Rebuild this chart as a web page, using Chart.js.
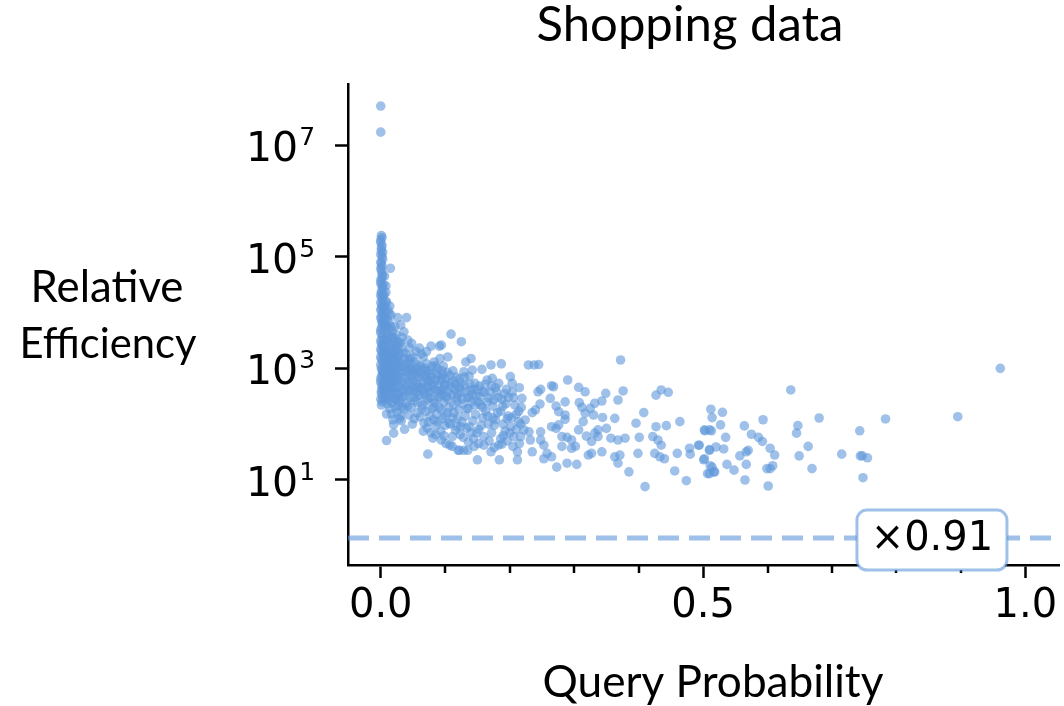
<!DOCTYPE html>
<html><head><meta charset="utf-8">
<script src="https://cdn.jsdelivr.net/npm/chart.js@4.4.1/dist/chart.umd.min.js"></script>
<style>html,body{margin:0;padding:0;background:#fff;overflow:hidden}#wrap{width:1064px;height:706px;position:relative}</style>
</head><body><div id="wrap"><canvas id="c" width="1064" height="706"></canvas></div>
<script>
const titleText = 'Shopping data';
const xAxisLabel = 'Query Probability';
const yAxisLabelLines = ['Relative', 'Efficiency'];
const xTickValues = [0, 0.5, 1.0];
const xMinorTickValues = [0.1, 0.2, 0.3, 0.4, 0.6, 0.7, 0.8, 0.9];
const yTickValues = [1e1, 1e3, 1e5, 1e7];
const baselineRatio = 0.91;
const baselineLabel = '×0.91';
const baselineLabelX = 0.855;

// [query probability, relative efficiency]
const shoppingPoints = [
[0.000,5.0e7],[0.000,1.7e7],
[0.001,2.4e5],[0.000,2.0e5],[0.002,1.6e5],[0.001,1.3e5],[0.000,1.1e5],[0.003,9.0e4],[0.001,7.5e4],[0.000,6.2e4],[0.002,5.0e4],[0.001,4.1e4],[0.000,3.3e4],[0.003,2.7e4],[0.001,2.2e4],[0.002,1.8e4],[0.000,1.5e4],[0.001,1.2e4],[0.003,1.0e4],[0.000,8.2e3],[0.002,6.6e3],[0.001,5.3e3],[0.000,4.3e3],[0.002,3.5e3],[0.001,2.8e3],[0.000,2.2e3],[0.003,1.8e3],[0.001,1.45e3],[0.000,1.15e3],[0.002,920],[0.001,720],[0.000,560],[0.002,440],[0.001,350],[0.000,280],
[0.002,2.2e5],[0.000,1.8e5],[0.001,1.45e5],[0.003,1.2e5],[0.002,1.0e5],[0.000,8.0e4],[0.002,6.8e4],[0.001,5.6e4],[0.003,4.5e4],[0.000,3.7e4],[0.002,3.0e4],[0.001,2.4e4],[0.000,2.0e4],[0.003,1.6e4],[0.002,1.35e4],[0.000,1.1e4],[0.002,9.0e3],[0.001,7.4e3],[0.003,6.0e3],[0.000,4.8e3],[0.003,3.9e3],[0.000,3.1e3],[0.002,2.5e3],[0.001,2.0e3],[0.000,1.6e3],[0.003,1.3e3],[0.001,1.0e3],[0.003,800],[0.000,640],[0.002,500],[0.001,390],[0.003,310],[0.002,250],[0.001,220],
[0.015,6.2e4],
[0.006,4.5e4],[0.008,3.0e4],[0.005,2.1e4],[0.009,1.5e4],[0.007,1.05e4],[0.010,7.5e3],[0.006,5.5e3],[0.011,4.0e3],[0.008,2.9e3],[0.005,2.2e3],[0.010,1.7e3],[0.007,1.3e3],[0.012,1.0e3],[0.006,780],[0.009,600],[0.011,460],[0.005,360],[0.008,290],[0.010,230],[0.009,152],[0.007,8.5e3],[0.012,5.0e3],[0.006,3.2e3],[0.009,2.0e3],[0.005,1.1e3],[0.011,650],[0.007,420],[0.009,51],
[0.014,1.3e4],[0.016,9.0e3],[0.013,6.5e3],[0.018,4.7e3],[0.015,3.5e3],[0.019,2.6e3],[0.013,1.9e3],[0.017,1.5e3],[0.014,1.15e3],[0.019,880],[0.016,680],[0.013,520],[0.018,400],[0.015,310],[0.017,240],[0.014,190],[0.017,152],[0.019,120],
[0.026,8.1e3],[0.031,6.0e3],[0.022,5.6e3],[0.024,4.0e3],[0.028,3.0e3],[0.021,2.3e3],[0.027,1.75e3],[0.023,1.35e3],[0.029,1.05e3],[0.025,800],[0.021,620],[0.028,480],[0.024,370],[0.022,280],[0.027,215],[0.025,165],[0.029,125],[0.020,69],[0.020,98],
[0.040,8.1e3],[0.036,4.5e3],[0.042,3.2e3],[0.033,2.4e3],[0.039,1.8e3],[0.044,1.4e3],[0.035,1.1e3],[0.041,860],[0.032,660],[0.038,510],[0.043,400],[0.034,310],[0.040,240],[0.036,185],[0.044,145],[0.032,115],[0.037,81],
[0.048,2.8e3],[0.055,2.0e3],[0.046,1.5e3],[0.058,1.15e3],[0.051,900],[0.047,700],[0.056,540],[0.050,420],[0.059,330],[0.053,260],[0.047,200],[0.057,160],[0.052,125],[0.049,100],
[0.060,2.3e3],[0.066,1.6e3],[0.071,1.2e3],[0.063,950],[0.069,750],[0.074,580],[0.062,450],[0.068,350],[0.073,280],[0.065,220],[0.070,170],[0.061,135],[0.067,105],[0.072,85],[0.073,29],
[0.078,2.5e3],[0.083,1.3e3],[0.088,1.0e3],[0.076,800],[0.085,620],[0.080,480],[0.089,380],[0.077,300],[0.084,240],[0.079,190],[0.087,150],[0.082,120],[0.086,95],[0.078,70],[0.081,56],
[0.091,2.5e3],[0.094,2.6e3],[0.092,1.5e3],[0.097,1.1e3],[0.103,850],[0.095,650],[0.100,500],[0.093,400],[0.102,310],[0.098,250],[0.091,200],[0.104,160],[0.096,125],[0.100,95],[0.093,75],[0.094,52],[0.101,45],
[0.109,4.1e3],[0.104,1.6e3],[0.112,900],[0.117,700],[0.108,540],[0.115,420],[0.110,330],[0.118,260],[0.106,200],[0.113,160],[0.119,125],[0.108,100],[0.116,78],[0.111,60],[0.107,42],[0.111,40],
[0.125,3.0e3],[0.132,1.3e3],[0.129,870],[0.122,650],[0.130,500],[0.124,380],[0.134,300],[0.127,230],[0.121,180],[0.131,140],[0.126,110],[0.133,85],[0.123,65],[0.120,34],[0.122,34],[0.135,34],[0.129,34],
[0.140,1.5e3],[0.142,930],[0.137,720],[0.146,540],[0.139,410],[0.148,320],[0.141,250],[0.136,190],[0.147,150],[0.143,115],[0.138,90],[0.149,70],[0.145,40],[0.150,23],
[0.157,960],[0.165,620],[0.173,660],[0.153,480],[0.161,370],[0.168,290],[0.155,220],[0.163,170],[0.158,130],[0.167,100],[0.152,80],[0.160,60],[0.171,32],
[0.171,1.15e3],[0.187,1.2e3],[0.183,540],[0.178,450],[0.192,350],[0.175,270],[0.189,210],[0.181,160],[0.196,125],[0.176,95],[0.193,75],[0.186,55],[0.183,42],[0.184,23],[0.198,300],[0.174,130],
[0.201,710],[0.204,540],[0.204,380],[0.219,290],[0.208,220],[0.214,170],[0.203,130],[0.217,100],[0.210,80],[0.206,60],[0.212,32],[0.212,23],[0.215,450],
[0.229,1150],[0.238,1150],[0.245,1170],[0.372,1410],[0.290,618],[0.265,489],[0.268,468],[0.248,421],[0.244,380],[0.307,457],[0.317,380],[0.349,357],[0.376,393],[0.368,271],[0.427,331],[0.435,410],[0.446,372],[0.263,290],[0.286,251],[0.308,243],[0.332,237],[0.343,260],[0.247,229],[0.240,180],[0.235,161],[0.272,211],[0.276,167],[0.286,146],[0.286,122],[0.312,200],[0.325,192],[0.317,157],[0.330,146],[0.344,132],[0.363,127],[0.408,161],[0.396,104],[0.427,90],[0.443,94],[0.464,111],
[0.224,119],[0.222,79],[0.230,73],[0.217,60],[0.248,73],[0.265,90],[0.272,84],[0.276,97],[0.232,52],[0.248,52],[0.253,42],[0.235,32],[0.258,30],[0.253,24],[0.265,26],[0.281,60],[0.289,58],[0.296,52],[0.281,40],[0.296,37],[0.302,40],[0.273,17],[0.289,20],[0.304,19],[0.307,79],[0.314,111],[0.319,61],[0.332,69],[0.337,79],[0.350,84],[0.357,56],[0.368,52],[0.379,56],[0.327,49],[0.337,60],[0.322,28],[0.327,30],[0.343,32],[0.363,26],[0.371,28],[0.368,20],[0.385,14],[0.399,30],[0.401,58],[0.422,60],[0.430,52],[0.435,42],[0.425,30],[0.433,26],[0.440,24],[0.410,7.6],[0.456,14.5],[0.474,9.7],[0.460,30],[0.479,37],[0.480,29],[0.493,42],[0.502,24],[0.510,34],[0.514,17],[0.510,13],[0.517,14],[0.502,79],[0.510,79],
[0.961,1000],[0.636,410],[0.895,136],[0.783,124],[0.680,129],[0.647,94],[0.645,69],[0.743,76],[0.715,29],[0.744,27],[0.747,27],[0.755,25],[0.748,11],[0.669,16],[0.649,27],[0.663,40],[0.593,120],[0.564,93],[0.575,66],[0.586,58],[0.592,49],[0.604,37],[0.611,28],[0.608,18],[0.604,16],[0.599,16],[0.601,7.8],[0.565,10],[0.567,19],[0.557,27],[0.567,32],[0.570,34],[0.548,15],[0.537,19],[0.512,185],[0.514,131],[0.530,163],[0.527,97],[0.503,76],[0.513,76],[0.535,58],[0.494,42],[0.510,35],[0.520,39],[0.532,36],[0.501,23],[0.511,18],[0.507,13],[0.518,14],
[0.004,2.6e3],[0.005,1.6e3],[0.004,900],[0.006,1.9e3],[0.008,1.1e3],[0.004,560],[0.007,700],[0.010,1.3e3],[0.012,2.4e3],[0.013,800],[0.016,1.1e3],[0.018,600],[0.011,340],[0.004,430],[0.006,270],[0.013,270],[0.016,450],[0.019,1.7e3],[0.020,3.5e3],[0.017,2.1e3],[0.010,5.8e3],[0.013,9.5e3],[0.004,1.3e4],[0.005,7.0e3],[0.008,2.3e4],[0.004,3.2e4],
[0.022,1.1e3],[0.024,560],[0.026,1.5e3],[0.030,850],[0.033,420],[0.035,1.9e3],[0.038,700],[0.041,1.2e3],[0.044,560],[0.046,300],[0.048,950],[0.050,1.6e3],[0.052,600],[0.054,380],[0.056,820],[0.058,470],[0.030,270],[0.034,200],[0.038,330],[0.042,210],[0.045,1.0e3],[0.053,1.3e3],[0.057,240],[0.023,200],[0.027,330],[0.031,140],[0.026,2.6e3],[0.033,3.6e3],[0.045,2.3e3],
[0.062,1.1e3],[0.065,700],[0.068,480],[0.071,900],[0.074,370],[0.077,600],[0.080,1.1e3],[0.083,270],[0.086,800],[0.089,500],[0.092,330],[0.095,900],[0.098,420],[0.101,650],[0.104,280],[0.107,750],[0.110,450],[0.113,220],[0.116,520],[0.119,350],[0.064,190],[0.070,260],[0.076,140],[0.082,200],[0.088,110],[0.094,180],[0.100,140],[0.106,105],[0.112,130],[0.118,90],[0.066,75],[0.074,110],[0.085,65],[0.098,62],[0.063,1.8e3],[0.071,2.0e3],
[0.122,460],[0.126,280],[0.130,700],[0.134,190],[0.138,520],[0.142,340],[0.146,220],[0.150,420],[0.154,310],[0.158,200],[0.162,520],[0.166,140],[0.170,380],[0.174,210],[0.178,120],[0.182,300],[0.186,170],[0.190,100],[0.194,230],[0.198,140],[0.202,90],[0.206,300],[0.210,150],[0.214,110],[0.218,200],[0.128,58],[0.136,48],[0.144,55],[0.152,45],[0.160,42],[0.168,50],[0.176,38],[0.188,44],[0.196,50],[0.205,40],[0.215,45],[0.124,90],[0.140,70],[0.156,95],[0.172,70],[0.190,62],[0.200,70],
[0.005,9.0e3],[0.007,6.2e3],[0.009,4.4e3],[0.011,3.3e3],[0.006,2.6e3],[0.014,2.8e3],[0.016,2.0e3],[0.012,1.6e3],[0.009,1.2e3],[0.015,1.3e3],[0.018,1.0e3],[0.021,1.5e3],[0.024,1.2e3],[0.023,2.0e3],[0.026,1.0e3],[0.028,1.3e3],[0.016,5.5e3],[0.019,3.6e3],[0.022,3.0e3],[0.025,2.2e3],[0.028,1.9e3],[0.030,2.8e3],[0.008,1.6e4],[0.011,1.1e4],[0.006,1.3e4],[0.004,2.0e4],
[0.005,800],[0.007,560],[0.009,850],[0.011,720],[0.013,600],[0.015,850],[0.017,700],[0.019,500],[0.021,800],[0.023,450],[0.025,620],[0.027,700],[0.029,380],[0.006,450],[0.008,380],[0.010,500],[0.012,410],[0.014,360],[0.016,560],[0.020,330],[0.024,280],[0.028,250],
[0.031,1.3e3],[0.034,900],[0.037,1.5e3],[0.039,1.0e3],[0.043,750],[0.046,1.2e3],[0.049,620],[0.053,850],[0.056,1.0e3],[0.059,700],[0.062,800],[0.066,550],[0.069,1.0e3],[0.072,650],[0.075,900],[0.079,700],[0.082,520],[0.085,1.1e3],[0.089,750],[0.093,600],[0.096,780],[0.099,520],[0.033,560],[0.036,380],[0.041,480],[0.047,420],[0.051,300],[0.055,450],[0.061,330],[0.067,400],[0.073,460],[0.078,380],[0.084,420],[0.090,300],[0.096,350],
[0.105,380],[0.112,600],[0.118,300],[0.124,540],[0.131,380],[0.137,300],[0.144,420],[0.151,250],[0.158,380],[0.165,250],[0.172,480],[0.180,380],[0.188,280],[0.195,420]
];

const X_MIN = -0.0508, X_MAX = 1.0524;
const Y_MIN = 0.3002, Y_MAX = 1.24e8;
const pointColor = 'rgba(95,152,218,0.6)';

function fitFont(ctx, text, family, targetWidth) {
  ctx.font = '100px "' + family + '"';
  const w = ctx.measureText(text).width;
  return 100 * targetWidth / w;
}

const decorPlugin = {
  id: 'decor',
  afterDraw(chart) {
    const ctx = chart.ctx;
    const xs = chart.scales.x, ys = chart.scales.y;
    const area = chart.chartArea;
    ctx.save();
    // minor x ticks
    ctx.strokeStyle = '#000';
    ctx.lineWidth = 2.5;
    xMinorTickValues.forEach(v => {
      const px = Math.round(xs.getPixelForValue(v));
      ctx.beginPath();
      ctx.moveTo(px, area.bottom);
      ctx.lineTo(px, area.bottom + 8);
      ctx.stroke();
    });
    // y tick labels: 10 with raised exponent
    ctx.fillStyle = '#000';
    ctx.textAlign = 'left';
    ctx.textBaseline = 'alphabetic';
    yTickValues.forEach(v => {
      const py = ys.getPixelForValue(v);
      const exp = String(Math.round(Math.log10(v)));
      const x0 = area.left - 102;
      ctx.font = '41px "DejaVu Sans"';
      ctx.fillText('10', x0, py + 16);
      const w = ctx.measureText('10').width;
      ctx.font = '25px "DejaVu Sans"';
      ctx.fillText(exp, x0 + w + 1, py);
    });
    // texts
    ctx.textAlign = 'center';
    const fam = 'Lato';
    let s = fitFont(ctx, titleText, fam, 307);
    ctx.font = s + 'px "' + fam + '"';
    ctx.fillText(titleText, 690, 41);
    s = fitFont(ctx, xAxisLabel, fam, 341);
    ctx.font = s + 'px "' + fam + '"';
    ctx.fillText(xAxisLabel, 713, 697);
    s = fitFont(ctx, yAxisLabelLines[0], fam, 153);
    ctx.font = s + 'px "' + fam + '"';
    ctx.fillText(yAxisLabelLines[0], 107, 302);
    s = fitFont(ctx, yAxisLabelLines[1], fam, 177);
    ctx.font = s + 'px "' + fam + '"';
    ctx.fillText(yAxisLabelLines[1], 108, 358);
    // baseline label box
    const cx = xs.getPixelForValue(baselineLabelX);
    const cy = ys.getPixelForValue(baselineRatio) + 2;
    const bw = 150, bh = 60, r = 10;
    ctx.beginPath();
    ctx.roundRect(cx - bw / 2, cy - bh / 2, bw, bh, r);
    ctx.fillStyle = '#fff';
    ctx.fill();
    ctx.strokeStyle = pointColor;
    ctx.lineWidth = 3;
    ctx.stroke();
    ctx.fillStyle = '#000';
    ctx.font = '40px "DejaVu Sans"';
    ctx.textBaseline = 'middle';
    ctx.fillText(baselineLabel, cx, cy);
    ctx.restore();
  }
};

const tickFont = { family: 'DejaVu Sans', size: 40 };

new Chart(document.getElementById('c'), {
  data: {
    datasets: [
      {
        type: 'scatter',
        data: shoppingPoints.map(([x, y]) => ({ x, y })),
        pointRadius: 4.8,
        pointHoverRadius: 4.8,
        backgroundColor: pointColor,
        borderWidth: 0,
        order: 1
      },
      {
        type: 'line',
        data: [{ x: X_MIN, y: baselineRatio }, { x: X_MAX, y: baselineRatio }],
        borderColor: pointColor,
        borderWidth: 5,
        borderDash: [21, 10],
        pointRadius: 0,
        fill: false,
        order: 2
      }
    ]
  },
  options: {
    responsive: false,
    animation: false,
    devicePixelRatio: 1,
    layout: { padding: { top: 84, left: 0, right: 0, bottom: 0 } },
    plugins: { legend: { display: false }, tooltip: { enabled: false }, title: { display: false } },
    scales: {
      x: {
        type: 'linear',
        min: X_MIN, max: X_MAX,
        afterBuildTicks: s => { s.ticks = xTickValues.map(v => ({ value: v })); },
        afterFit: s => { s.height = 141; },
        ticks: { callback: v => Number(v).toFixed(1), font: tickFont, color: '#000', padding: 5, maxRotation: 0, autoSkip: false },
        grid: { display: true, drawOnChartArea: false, drawTicks: true, tickLength: 13, tickWidth: 2.5, tickColor: '#000' },
        border: { display: true, color: '#000', width: 2.5 }
      },
      y: {
        type: 'logarithmic',
        min: Y_MIN, max: Y_MAX,
        afterBuildTicks: s => { s.ticks = yTickValues.map(v => ({ value: v })); },
        afterFit: s => { s.width = 348; },
        ticks: { display: false },
        grid: { display: true, drawOnChartArea: false, drawTicks: true, tickLength: 13, tickWidth: 2.5, tickColor: '#000' },
        border: { display: true, color: '#000', width: 2.5 }
      }
    }
  },
  plugins: [decorPlugin]
});
</script>
</body></html>
